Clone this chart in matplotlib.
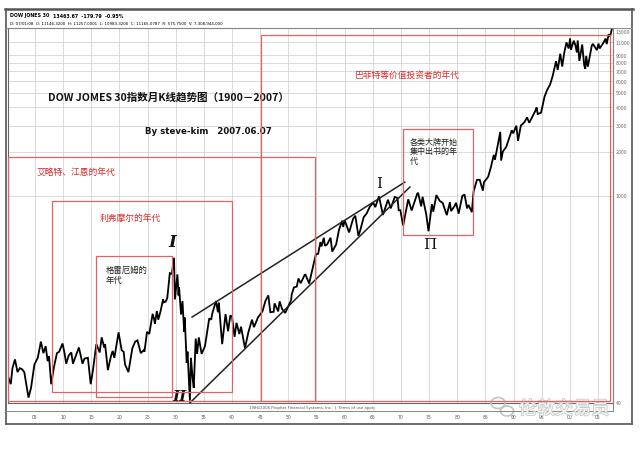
import matplotlib
matplotlib.use("Agg")
import matplotlib.pyplot as plt
from matplotlib.patches import Rectangle, Ellipse
from matplotlib.lines import Line2D
import matplotlib.patheffects as pe

plt.rcParams['font.family'] = ['Noto Sans CJK SC', 'DejaVu Sans']

# ---------------- data ----------------
years = [1900.0, 1900.2, 1900.7, 1901.0, 1901.45, 1901.9, 1902.3, 1902.7, 1903.1, 1903.85,
         1904.3, 1904.9, 1905.5, 1906.05, 1906.5, 1906.9, 1907.25, 1907.5, 1907.88, 1908.4,
         1908.9, 1909.3, 1909.9, 1910.2, 1910.55, 1911.0, 1911.45, 1911.75, 1912.8, 1913.45,
         1913.8, 1914.4, 1914.9, 1915.3, 1915.9, 1916.5, 1916.85, 1917.3, 1917.45, 1917.95,
         1918.5, 1918.8, 1919.1, 1919.85, 1920.4, 1920.75, 1921.0, 1921.6, 1922.3, 1922.8,
         1923.2, 1923.8, 1924.3, 1924.45, 1924.9, 1925.3, 1925.9, 1926.2, 1926.3, 1926.65,
         1926.9, 1927.3, 1927.75, 1927.9, 1928.2, 1928.5, 1928.95, 1929.3, 1929.7, 1929.85,
         1930.3, 1930.5, 1930.6, 1930.95, 1931.2, 1931.5, 1931.6, 1931.95, 1932.1, 1932.52,
         1932.7, 1933.0, 1933.2, 1933.55, 1933.8, 1934.1, 1934.6, 1935.2, 1935.95, 1936.3,
         1936.5, 1937.15, 1937.5, 1937.65, 1938.25, 1938.85, 1939.3, 1939.7, 1940.0, 1940.45,
         1940.8, 1941.3, 1941.6, 1942.3, 1942.9, 1943.55, 1943.9, 1944.6, 1945.4, 1945.95,
         1946.45, 1946.8, 1947.4, 1947.55, 1947.9, 1948.2, 1948.45, 1948.9, 1949.45, 1950.5,
         1950.6, 1951.0, 1951.5, 1951.8, 1952.2, 1952.9, 1953.05, 1953.7, 1954.3, 1954.9,
         1955.3, 1955.7, 1955.9, 1956.3, 1956.5, 1956.9, 1957.5, 1957.8, 1958.5, 1959.0,
         1959.55, 1959.75, 1960.0, 1960.8, 1961.5, 1961.9, 1962.45, 1962.8, 1963.4, 1963.9,
         1964.5, 1965.1, 1965.45, 1966.1, 1966.8, 1967.7, 1968.2, 1968.9, 1969.4, 1969.6,
         1969.9, 1970.4, 1971.3, 1971.9, 1972.9, 1973.05, 1973.6, 1973.85, 1974.5, 1974.9,
         1975.5, 1975.75, 1976.3, 1976.9, 1977.4, 1978.15, 1978.7, 1978.9, 1979.5, 1979.8,
         1980.25, 1980.9, 1981.3, 1981.75, 1982.0, 1982.6, 1982.9, 1983.5, 1984.0, 1984.55,
         1984.75, 1985.5, 1985.95, 1986.5, 1986.7, 1987.65, 1987.8, 1988.1, 1988.7, 1989.7,
         1989.95, 1990.5, 1990.8, 1991.3, 1991.95, 1992.4, 1992.8, 1993.9, 1994.1, 1994.3,
         1994.9, 1995.5, 1995.95, 1996.5, 1996.95, 1997.55, 1997.85, 1998.3, 1998.65, 1999.0,
         1999.4, 1999.8, 2000.05, 2000.2, 2000.7, 2001.0, 2001.25, 2001.4, 2001.7, 2002.2,
         2002.55, 2002.75, 2002.9, 2003.2, 2003.9, 2004.1, 2004.8, 2005.1, 2005.3, 2005.95,
         2006.35, 2006.55, 2006.9, 2007.15, 2007.45]
dow = [66, 60, 53, 68, 78, 64, 68, 67, 64, 43,
       50, 72, 80, 103, 86, 96, 76, 82, 53, 70,
       86, 88, 100, 88, 73, 83, 87, 73, 94, 73,
       79, 80, 53, 66, 99, 87, 110, 94, 99, 66,
       82, 89, 80, 119, 90, 88, 72, 64, 93, 103,
       105, 86, 90, 88, 120, 116, 159, 144, 136, 166,
       145, 165, 199, 190, 192, 203, 300, 296, 381, 199,
       294, 212, 240, 157, 194, 120, 150, 74, 88, 41,
       80, 58, 50, 108, 85, 110, 85, 96, 148, 145,
       160, 194, 163, 189, 99, 158, 121, 155, 152, 111,
       138, 116, 130, 93, 119, 145, 129, 150, 165, 195,
       212, 163, 164, 187, 175, 165, 193, 171, 161, 197,
       215, 240, 243, 276, 256, 292, 293, 255, 320, 404,
       405, 487, 455, 521, 460, 470, 521, 420, 470, 590,
       679, 617, 685, 566, 700, 735, 536, 590, 720, 760,
       850, 900, 840, 995, 744, 943, 825, 985, 968, 801,
       800, 631, 950, 798, 1036, 1051, 851, 987, 750, 577,
       880, 784, 1014, 925, 900, 742, 907, 790, 850, 900,
       759, 1000, 1024, 824, 870, 777, 1070, 1287, 1287, 1087,
       1240, 1350, 1553, 1900, 1760, 2722, 1739, 2000, 2150, 2790,
       2660, 2999, 2365, 3000, 3170, 3413, 3136, 3794, 3978, 3593,
       3674, 4700, 5216, 5700, 6500, 8200, 7160, 9211, 7539, 9300,
       11000, 10000, 11723, 9796, 11300, 10500, 9389, 11337, 8236, 10635,
       7702, 7286, 8900, 7524, 10450, 10750, 9750, 10800, 10000, 10900,
       11670, 10700, 12500, 12050, 13500]

x_tick_years = [1905, 1910, 1915, 1920, 1925, 1930, 1935, 1940, 1945, 1950, 1955,
                1960, 1965, 1970, 1975, 1980, 1985, 1990, 1995, 2000, 2005]
x_tick_labels = ['05', '10', '15', '20', '25', '30', '35', '40', '45', '50', '55',
                 '60', '65', '70', '75', '80', '85', '90', '95', '00', '05']
y_tick_values = [13000, 11000, 9000, 8000, 7000, 6000, 5000, 4000, 3000, 2000, 1000, 40]
y_tick_labels = ['13000', '11000', '9000', '8000', '7000', '6000', '5000', '4000',
                 '3000', '2000', '1000', '40']
grid_values = [11000, 9000, 8000, 7000, 6000, 5000, 4000, 3000, 2000, 1000]

# hand-drawn trend channel (year, value)
upper_trend_years = [1932.9, 1970.7]
upper_trend_vals = [151, 1242]
lower_trend_years = [1932.5, 1971.6]
lower_trend_vals = [39.5, 1151]

# ---------------- layout helpers ----------------
W, H = 640, 452
def fx(x):
    return x / W
def fy(y):
    return 1 - y / H

fig = plt.figure(figsize=(6.4, 4.52), dpi=100)
fig.patch.set_facecolor('white')

L, R, T, B = 8, 613, 29, 404
ax = fig.add_axes([fx(L), fy(B), fx(R) - fx(L), fy(T) - fy(B)])
ax.set_yscale('log')
ax.set_xlim(1900.21, 2007.67)
ax.set_ylim(39.5, 13770)
ax.set_xticks([]); ax.set_yticks([])
ax.minorticks_off()
for s in ax.spines.values():
    s.set_color('#666666'); s.set_linewidth(0.8)

grid_c = '#d4d4d4'
for yr in x_tick_years:
    ax.axvline(yr, color=grid_c, lw=0.6, zorder=0)
for v in grid_values:
    ax.axhline(v, color=grid_c, lw=0.6, zorder=0)

# main series
ax.plot(years, dow, color='black', lw=1.3, zorder=3, solid_joinstyle='miter')

# trend lines
ax.plot(upper_trend_years, upper_trend_vals, color='#222222', lw=1.1, zorder=4, clip_on=False)
ax.plot(lower_trend_years, lower_trend_vals, color='#222222', lw=1.1, zorder=4, clip_on=False)

# right axis labels
ytr = ax.get_yaxis_transform()
for v, lab in zip(y_tick_values, y_tick_labels):
    ax.text(1.004, v, lab, transform=ytr, fontsize=3.3, color='#666666',
            ha='left', va='center', clip_on=False, family='DejaVu Sans')

# bottom x labels
xtr = ax.get_xaxis_transform()
for yr, lab in zip(x_tick_years, x_tick_labels):
    ax.text(yr, -0.037, lab, transform=xtr, fontsize=3.3, color='#555555',
            ha='center', va='center', clip_on=False, family='DejaVu Sans')

# ---------------- red era boxes (pixel coords) ----------------
red = '#e06464'
boxes = [(261, 36, 610, 402), (8, 158, 315, 402), (52, 202, 232, 393),
         (96, 257, 172, 398), (403, 130, 473, 236)]
for x0, y0, x1, y1 in boxes:
    fig.patches.append(Rectangle((fx(x0), fy(y1)), fx(x1) - fx(x0), fy(y0) - fy(y1),
                                 transform=fig.transFigure, fill=False,
                                 edgecolor=red, lw=0.9, zorder=5))
fig.add_artist(Line2D([fx(612.5), fx(612.5)], [fy(36), fy(404)], color=red, lw=0.8))

txt_red = '#e02828'
fig.text(fx(355), fy(75), '巴菲特等价值投资者的年代', color=txt_red, fontsize=6.3, va='center')
fig.text(fx(37), fy(172), '艾略特、江恩的年代', color=txt_red, fontsize=6.3, va='center')
fig.text(fx(100), fy(218), '利弗摩尔的年代', color=txt_red, fontsize=6.3, va='center')
fig.text(fx(106), fy(266), '格雷厄姆的\n年代', color='#222222', fontsize=6.0, va='top',
         linespacing=1.1)
fig.text(fx(410), fy(138), '各类大牌开始\n集中出书的年\n代', color='#222222', fontsize=5.8,
         va='top', linespacing=1.05)

# title
fig.text(fx(48), fy(97), 'DOW JOMES 30指数月K线趋势图（1900－2007）', fontsize=7.6,
         fontweight='bold', color='#111111', va='center')
fig.text(fx(145), fy(132), 'By steve-kim   2007.06.07', fontsize=6.2, fontweight='bold',
         color='#111111', va='center', family=['DejaVu Sans'])

# roman numerals
fig.text(fx(172), fy(243), 'I', fontsize=12, style='italic', fontweight='bold',
         family='DejaVu Serif', ha='center', va='center', color='#111111')
fig.text(fx(179), fy(397), 'II', fontsize=11, style='italic', fontweight='bold',
         family='DejaVu Serif', ha='center', va='center', color='#111111')
fig.text(fx(379), fy(184), 'I', fontsize=11, family='DejaVu Serif',
         ha='center', va='center', color='#111111')
fig.text(fx(430), fy(245), 'Π', fontsize=11, family='DejaVu Serif',
         ha='center', va='center', color='#111111')

# ---------------- outer frame & header ----------------
frame_c = '#555555'
fig.add_artist(Line2D([fx(5), fx(633)], [fy(10), fy(10)], color=frame_c, lw=1.8))
fig.add_artist(Line2D([fx(6), fx(6)], [fy(10), fy(425)], color=frame_c, lw=1.2))
fig.add_artist(Line2D([fx(632), fx(632)], [fy(10), fy(425)], color=frame_c, lw=1.2))
fig.add_artist(Line2D([fx(6), fx(632)], [fy(425), fy(425)], color=frame_c, lw=1.2))
fig.add_artist(Line2D([fx(6), fx(632)], [fy(29), fy(29)], color='#888888', lw=0.7))
fig.add_artist(Line2D([fx(6), fx(613)], [fy(412), fy(412)], color='#888888', lw=0.7))
fig.add_artist(Line2D([fx(613), fx(613)], [fy(29), fy(412)], color='#888888', lw=0.7))

fig.text(fx(10), fy(16), 'DOW JONES 30', fontsize=3.4, fontweight='bold',
         family='DejaVu Sans', va='center')
fig.text(fx(53), fy(16), '13463.67  -179.79  -0.95%', fontsize=3.4, fontweight='bold',
         family='DejaVu Sans', va='center')
fig.text(fx(10), fy(24), 'D: 07/01/08  O: 11146.3200  H: 11257.0001  L: 10983.3200  '
         'C: 11165.0787  R: 575.7500  V: 7,308,944,000', fontsize=2.9,
         family='DejaVu Sans', va='center')
fig.text(fx(312), fy(408.5), '1986/2006 Prophet Financial Systems, Inc.  |  Terms of use apply',
         fontsize=2.8, family='DejaVu Sans', ha='center', va='center', color='#555555')

# watermark
wm = '#c4c4c4'
fig.patches.append(Ellipse((fx(498), fy(404)), 14 / W, 11 / H, transform=fig.transFigure,
                           fill=False, edgecolor=wm, lw=1.2))
fig.patches.append(Ellipse((fx(507), fy(412)), 13 / W, 10 / H, transform=fig.transFigure,
                           fill=False, edgecolor=wm, lw=1.2, facecolor='white'))
t = fig.text(fx(519), fy(410), '伦敦交易员', fontsize=13, color='white', va='center',
             alpha=0.9)
t.set_path_effects([pe.withStroke(linewidth=1.2, foreground=wm)])

fig.savefig('out.png', dpi=100, facecolor='white')
